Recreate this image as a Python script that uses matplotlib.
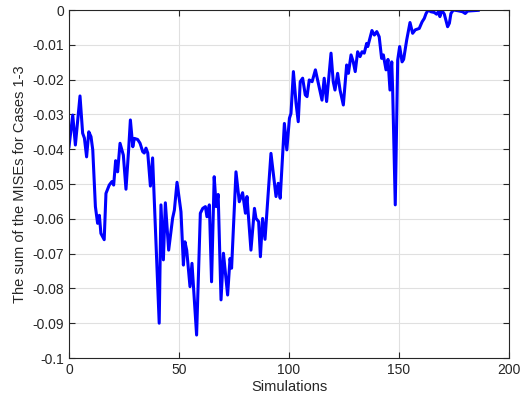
import matplotlib
matplotlib.use("Agg")
import matplotlib.pyplot as plt

# Traced vertices of the curve (simulation index, sum of MISEs)
sim = [0, 1.7, 2.9, 5.0, 6.2, 7.0, 8.0, 9.0, 10.0, 10.8, 12.0, 13.0, 13.8, 14.5, 16.0,
       16.8, 18.3, 19.5, 20.3, 21.2, 22.1, 23.2, 24.7, 25.9, 27.1, 27.9, 29.0, 29.7,
       31.2, 32.3, 33.5, 34.2, 35.0, 35.8, 37.0, 38.0, 41.0, 41.8, 42.9, 43.8, 45.3,
       47.1, 47.9, 49.1, 50.9, 52.0, 52.7, 53.5, 55.0, 55.9, 58.0, 59.7, 60.8, 62.0,
       62.7, 63.8, 64.8, 66.0, 66.9, 67.8, 69.1, 70.2, 72.1, 73.2, 73.9, 75.9, 77.4,
       78.9, 80.2, 80.9, 82.7, 84.3, 85.0, 86.2, 87.0, 88.0, 89.1, 91.8, 94.1, 95.1,
       96.0, 97.9, 99.0, 100.2, 100.9, 102.0, 103.2, 104.2, 105.1, 106.2, 107.4, 108.2,
       109.2, 110.5, 112.0, 113.0, 115.0, 116.0, 117.1, 119.1, 120.1, 120.9, 122.1,
       123.2, 124.7, 126.2, 127.0, 128.2, 129.2, 130.1, 131.2, 132.3, 133.2, 134.2,
       135.3, 135.8, 137.7, 138.8, 139.9, 141.0, 142.1, 142.9, 143.3, 144.1, 145.0,
       145.9, 146.7, 147.1, 148.3, 149.4, 150.3, 151.4, 152.1, 153.5, 155.0, 156.2,
       157.4, 159.2, 160.5, 161.5, 162.3, 163.3, 164.5, 166.0, 167.1, 167.9, 168.6,
       169.4, 170.6, 172.1, 172.9, 173.6, 174.7, 176.7, 178.9, 180.1, 181.2, 183.5,
       186.0]
mise = [-0.0393, -0.0302, -0.0388, -0.0247, -0.0354, -0.0368, -0.0422, -0.0350,
        -0.0364, -0.0402, -0.0565, -0.0613, -0.0590, -0.0642, -0.0660, -0.0527,
        -0.0503, -0.0493, -0.0503, -0.0433, -0.0465, -0.0383, -0.0417, -0.0515,
        -0.0402, -0.0316, -0.0393, -0.0369, -0.0372, -0.0383, -0.0407, -0.0411,
        -0.0397, -0.0411, -0.0506, -0.0425, -0.0900, -0.0560, -0.0718, -0.0554,
        -0.0690, -0.0598, -0.0575, -0.0495, -0.0580, -0.0733, -0.0666, -0.0690,
        -0.0795, -0.0728, -0.0934, -0.0584, -0.0570, -0.0565, -0.0594, -0.0560,
        -0.0781, -0.0479, -0.0565, -0.0530, -0.0833, -0.0699, -0.0819, -0.0714,
        -0.0742, -0.0465, -0.0551, -0.0525, -0.0584, -0.0536, -0.0690, -0.0570,
        -0.0599, -0.0608, -0.0709, -0.0599, -0.0659, -0.0412, -0.0536, -0.0498,
        -0.0541, -0.0326, -0.0402, -0.0311, -0.0297, -0.0177, -0.0268, -0.0321,
        -0.0206, -0.0196, -0.0244, -0.0249, -0.0201, -0.0206, -0.0172, -0.0201,
        -0.0259, -0.0196, -0.0263, -0.0124, -0.0206, -0.0230, -0.0182, -0.0230,
        -0.0273, -0.0158, -0.0182, -0.0129, -0.0149, -0.0177, -0.0120, -0.0134,
        -0.0120, -0.0124, -0.0096, -0.0105, -0.0059, -0.0072, -0.0062, -0.0077,
        -0.0139, -0.0129, -0.0144, -0.0172, -0.0142, -0.0230, -0.0149, -0.0225,
        -0.0560, -0.0144, -0.0105, -0.0149, -0.0142, -0.0086, -0.0036, -0.0067,
        -0.0057, -0.0053, -0.0034, -0.0024, -0.0010, 0.0, -0.0005, -0.0007,
        -0.0012, -0.0005, -0.0019, 0.0, -0.0012, -0.0048, -0.0038, -0.0010, 0.0,
        -0.0002, -0.0005, -0.0010, -0.0003, -0.0002, -0.0001]

x_ticks = [0, 50, 100, 150, 200]
y_ticks = [-0.1, -0.09, -0.08, -0.07, -0.06, -0.05, -0.04, -0.03, -0.02, -0.01, 0]
y_tick_labels = ["-0.1", "-0.09", "-0.08", "-0.07", "-0.06", "-0.05", "-0.04",
                 "-0.03", "-0.02", "-0.01", "0"]

plt.rcParams['font.family'] = ['Liberation Sans', 'DejaVu Sans']

fig = plt.figure(figsize=(5.26, 4.05), dpi=100)
ax = fig.add_axes([69/526, 1 - 358/405, 440/526, 348/405])

ax.plot(sim, mise, color=(0, 0, 1), linewidth=2.2, solid_joinstyle='round')

ax.set_xlim(0, 200)
ax.set_ylim(-0.1, 0)
ax.set_xticks(x_ticks)
ax.set_xticklabels([str(t) for t in x_ticks])
ax.set_yticks(y_ticks)
ax.set_yticklabels(y_tick_labels)

dark = '#262626'
ax.grid(True, color='#e0e0e0', linewidth=0.8)
ax.set_axisbelow(True)
for s in ax.spines.values():
    s.set_color(dark)
    s.set_linewidth(0.8)
ax.tick_params(direction='in', top=True, right=True, length=4, width=0.8,
               colors=dark, labelsize=10, labelcolor=dark)

ax.set_xlabel('Simulations', fontsize=10.5, color=dark, labelpad=2)
ax.set_ylabel('The sum of the MISEs for Cases 1-3', fontsize=10.5, color=dark, labelpad=4)

fig.savefig('out.png', dpi=100)
